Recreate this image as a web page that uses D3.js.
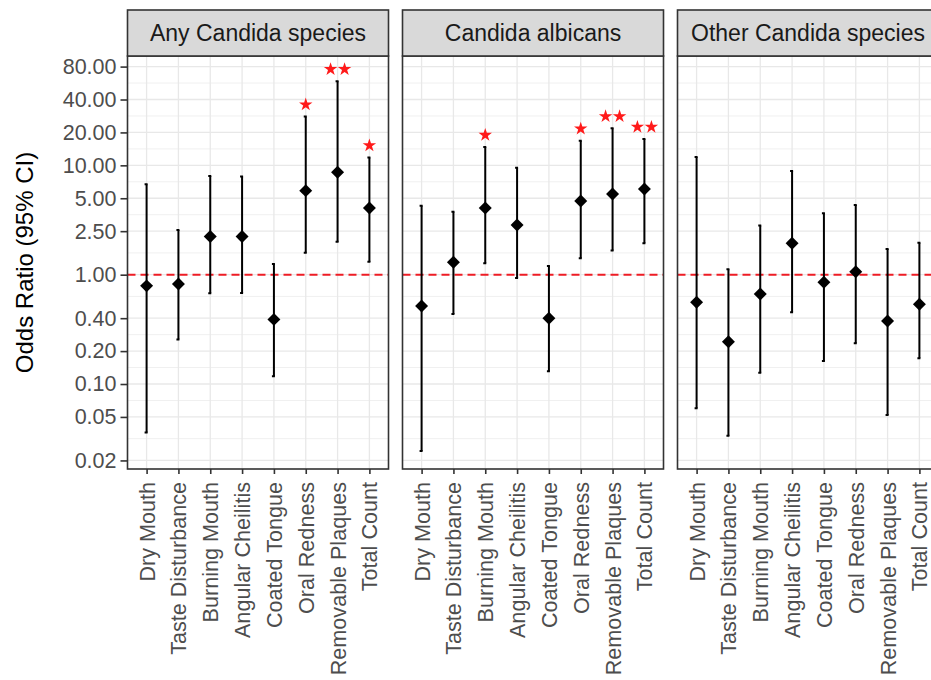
<!DOCTYPE html>
<html>
<head>
<meta charset="utf-8">
<script src="https://cdn.jsdelivr.net/npm/d3@7"></script>
<style>
  body { margin: 0; background: #fff; }
  text { font-family: "Liberation Sans", Arial, sans-serif; }
</style>
</head>
<body>
<div id="chart"></div>
<script>
var width = 931,
    height = 680;

// categories and facets
var categories = ["Dry Mouth", "Taste Disturbance", "Burning Mouth", "Angular Cheilitis",
                  "Coated Tongue", "Oral Redness", "Removable Plaques", "Total Count"];
var panels = ["Any Candida species", "Candida albicans", "Other Candida species"];

// odds ratios with 95% CI
var anyOR  = [0.79, 0.82, 2.23, 2.23, 0.39, 5.87, 8.65, 4.08];
var anyLo  = [0.036, 0.256, 0.676, 0.68, 0.118, 1.59, 2.0, 1.31];
var anyHi  = [6.7, 2.56, 8.0, 7.9, 1.25, 27.9, 58.8, 11.8];
var anySig = ["", "", "", "", "", "*", "**", "*"];

var albOR  = [0.517, 1.30, 4.08, 2.85, 0.40, 4.72, 5.47, 6.08];
var albLo  = [0.0244, 0.437, 1.27, 0.93, 0.131, 1.41, 1.66, 1.94];
var albHi  = [4.28, 3.77, 14.7, 9.5, 1.2, 16.8, 21.8, 17.4];
var albSig = ["", "", "*", "", "", "*", "**", "**"];

var othOR  = [0.56, 0.244, 0.666, 1.94, 0.852, 1.065, 0.377, 0.536];
var othLo  = [0.06, 0.0336, 0.127, 0.453, 0.162, 0.236, 0.052, 0.172];
var othHi  = [11.9, 1.12, 2.81, 8.89, 3.65, 4.34, 1.72, 1.96];
var othSig = ["", "", "", "", "", "", "", ""];

var yTicks = [0.02, 0.05, 0.10, 0.20, 0.40, 1.00, 2.50, 5.00, 10.00, 20.00, 40.00, 80.00];

var series = [
  {or: anyOR, lo: anyLo, hi: anyHi, sig: anySig},
  {or: albOR, lo: albLo, hi: albHi, sig: albSig},
  {or: othOR, lo: othLo, hi: othHi, sig: othSig}
];

// layout
var panelLeft = 127.5, panelW = 261, panelGap = 14,
    stripTop = 10, stripH = 46,
    panelTop = stripTop + stripH, panelBottom = 469;

var svg = d3.select("#chart")
    .append("svg")
    .attr("width", width)
    .attr("height", height)
    .style("display", "block")
    .style("overflow", "hidden");

var y = d3.scaleLog()
    .domain([0.0167, 100])
    .range([panelBottom, panelTop]);

var x = d3.scalePoint()
    .domain(categories)
    .range([0, panelW])
    .padding(0.6);

// minor breaks halfway between majors on the log scale
var minorTicks = d3.pairs(yTicks).map(function(p) { return Math.sqrt(p[0] * p[1]); });

var diamond = d3.symbol().type(d3.symbolSquare).size(84);
var star = d3.symbol().type(d3.symbolStar).size(56);

panels.forEach(function(name, pi) {
  var x0 = panelLeft + pi * (panelW + panelGap);
  var g = svg.append("g").attr("transform", "translate(" + x0 + ",0)");
  var d = series[pi];

  g.append("rect")
    .attr("x", 0).attr("y", panelTop)
    .attr("width", panelW).attr("height", panelBottom - panelTop)
    .attr("fill", "#fff");

  // grid
  g.selectAll(".minor").data(minorTicks).enter().append("line")
    .attr("x1", 0).attr("x2", panelW)
    .attr("y1", function(v) { return y(v); }).attr("y2", function(v) { return y(v); })
    .attr("stroke", "#f0f0f0").attr("stroke-width", 1);
  g.selectAll(".major").data(yTicks).enter().append("line")
    .attr("x1", 0).attr("x2", panelW)
    .attr("y1", function(v) { return y(v); }).attr("y2", function(v) { return y(v); })
    .attr("stroke", "#e8e8e8").attr("stroke-width", 1.3);
  g.selectAll(".vgrid").data(categories).enter().append("line")
    .attr("x1", function(c) { return x(c); }).attr("x2", function(c) { return x(c); })
    .attr("y1", panelTop).attr("y2", panelBottom)
    .attr("stroke", "#e8e8e8").attr("stroke-width", 1.3);

  // reference line at OR = 1
  g.append("line")
    .attr("x1", 0).attr("x2", panelW)
    .attr("y1", y(1)).attr("y2", y(1))
    .attr("stroke", "#ee1c25").attr("stroke-width", 2)
    .attr("stroke-dasharray", "8,5");

  // error bars
  var bars = g.selectAll(".bar").data(categories).enter().append("g");
  bars.append("line")
    .attr("x1", function(c) { return x(c); }).attr("x2", function(c) { return x(c); })
    .attr("y1", function(c, i) { return y(d.lo[i]); })
    .attr("y2", function(c, i) { return y(d.hi[i]); })
    .attr("stroke", "#000").attr("stroke-width", 2);
  bars.append("path")
    .attr("d", function(c, i) {
      var cx = x(c);
      return "M" + (cx - 2) + "," + y(d.hi[i]) + "H" + (cx + 1) +
             "M" + (cx - 2) + "," + y(d.lo[i]) + "H" + (cx + 1);
    })
    .attr("stroke", "#000").attr("stroke-width", 2);

  // points
  g.selectAll(".pt").data(categories).enter().append("path")
    .attr("d", diamond)
    .attr("transform", function(c, i) {
      return "translate(" + x(c) + "," + y(d.or[i]) + ") rotate(45)";
    })
    .attr("fill", "#000");

  // significance stars
  categories.forEach(function(c, i) {
    var n = d.sig[i].length;
    for (var k = 0; k < n; k++) {
      g.append("path")
        .attr("d", star)
        .attr("transform", "translate(" + (x(c) + (k - (n - 1) / 2) * 14) + "," + (y(d.hi[i]) - 12) + ")")
        .attr("fill", "#ff1a1a");
    }
  });

  // border
  g.append("rect")
    .attr("x", 0).attr("y", panelTop)
    .attr("width", panelW).attr("height", panelBottom - panelTop)
    .attr("fill", "none").attr("stroke", "#333").attr("stroke-width", 1.6);

  // strip
  g.append("rect")
    .attr("x", 0).attr("y", stripTop)
    .attr("width", panelW).attr("height", stripH)
    .attr("fill", "#d9d9d9").attr("stroke", "#333").attr("stroke-width", 1.6);
  g.append("text")
    .attr("x", panelW / 2).attr("y", stripTop + stripH / 2)
    .attr("dy", "0.35em")
    .attr("text-anchor", "middle")
    .attr("fill", "#1a1a1a")
    .style("font-size", "23px")
    .text(name);

  // x axis
  var xa = g.append("g")
    .attr("transform", "translate(0," + panelBottom + ")")
    .call(d3.axisBottom(x).tickSize(5).tickPadding(0));
  xa.select(".domain").remove();
  xa.selectAll(".tick line").attr("stroke", "#333").attr("stroke-width", 1.6);
  xa.selectAll(".tick text")
    .attr("transform", "translate(0,13) rotate(-90)")
    .attr("x", 0).attr("y", 0).attr("dy", "0.35em")
    .attr("text-anchor", "end")
    .attr("fill", "#4d4d4d")
    .style("font-size", "21.6px")
    .style("font-family", "'Liberation Sans', Arial, sans-serif");
});

// y axis on first panel
var ya = svg.append("g")
  .attr("transform", "translate(" + panelLeft + ",0)")
  .call(d3.axisLeft(y).tickValues(yTicks).tickFormat(d3.format(".2f")).tickSize(7).tickPadding(4));
ya.select(".domain").remove();
ya.selectAll(".tick line").attr("stroke", "#333").attr("stroke-width", 1.6);
ya.selectAll(".tick text")
  .attr("fill", "#4d4d4d")
  .style("font-size", "21.5px")
  .style("font-family", "'Liberation Sans', Arial, sans-serif");

svg.append("text")
  .attr("transform", "translate(25," + ((panelTop + panelBottom) / 2) + ") rotate(-90)")
  .attr("dy", "0.35em")
  .attr("text-anchor", "middle")
  .attr("fill", "#000")
  .style("font-size", "24px")
  .text("Odds Ratio (95% CI)");
</script>
</body>
</html>
